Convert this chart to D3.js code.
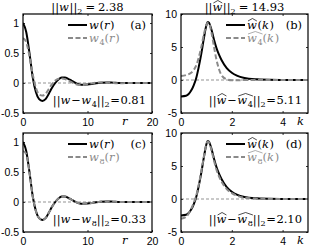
<!DOCTYPE html>
<html>
<head>
<meta charset="utf-8">
<script src="https://cdn.jsdelivr.net/npm/d3@7"></script>
<style>
  body { margin: 0; background: #fff; }
  svg { display: block; }
  .tick text { font-family: "Liberation Sans", Arial, sans-serif; font-size: 10.5px; fill: #000; }
</style>
</head>
<body>
<div id="chart"></div>
<script>
// spatial profile w(r) and its approximations
const rVals = [0, 0.5, 1, 1.5, 2, 2.5, 3, 3.5, 4, 4.5, 5, 5.5, 6, 6.5, 7, 7.5, 8, 8.5, 9, 9.5, 10, 11, 12, 13, 14, 15, 16, 18, 20];
const wR  = [1.0, 0.85, 0.5, 0.1, -0.15, -0.27, -0.3, -0.27, -0.18, -0.08, 0.0, 0.06, 0.09, 0.09, 0.07, 0.04, 0.01, -0.015, -0.03, -0.03, -0.025, -0.01, 0.005, 0.01, 0.005, 0, 0, 0, 0];
const w4R = [0.75, 0.68, 0.45, 0.15, -0.08, -0.19, -0.21, -0.18, -0.1, -0.02, 0.04, 0.07, 0.075, 0.065, 0.04, 0.015, -0.01, -0.03, -0.035, -0.03, -0.02, 0.0, 0.01, 0.01, 0.0, -0.005, 0, 0, 0];
const w8R = [0.85, 0.8, 0.5, 0.1, -0.15, -0.27, -0.3, -0.27, -0.18, -0.08, 0.0, 0.06, 0.09, 0.09, 0.07, 0.04, 0.01, -0.015, -0.028, -0.03, -0.025, -0.01, 0.005, 0.008, 0.004, 0, 0, 0, 0];

// spectrum w^(k) and its approximations
const kVals = [0, 0.2, 0.4, 0.5, 0.6, 0.7, 0.8, 0.9, 1.0, 1.05, 1.1, 1.2, 1.3, 1.4, 1.5, 1.6, 1.8, 2.0, 2.2, 2.5, 3, 3.5, 4, 4.5, 5];
const wK  = [-2.5, -2.4, -1.6, -0.8, 0.3, 2.0, 4.0, 6.3, 8.3, 8.8, 8.7, 7.6, 6.1, 4.8, 3.8, 3.0, 1.8, 1.1, 0.65, 0.3, 0.1, 0.03, 0.01, 0, 0];
const w4K = [0.6, 0.75, 1.1, 1.5, 2.2, 3.4, 5.0, 6.9, 8.3, 8.7, 8.6, 7.2, 5.0, 3.0, 1.6, 0.7, 0.1, -0.05, -0.05, 0, 0, 0, 0, 0, 0];
const w8K = [-3.0, -2.7, -1.5, -0.6, 0.5, 2.2, 4.2, 6.4, 8.3, 8.7, 8.6, 7.4, 5.8, 4.4, 3.4, 2.6, 1.5, 0.9, 0.5, 0.2, 0.05, 0, 0, 0, 0];

const rTicks = [0, 10, 20];
const kTicks = [0, 2, 4];
const rYTicks = [-0.5, 0, 0.5, 1];
const kYTicks = [-5, 0, 5, 10];

const width = 322, height = 247;
const svg = d3.select("#chart").append("svg")
  .attr("width", width)
  .attr("height", height);
svg.append("rect").attr("width", width).attr("height", height).attr("fill", "#fff");

const gray = "#8a8a8a";
const mathSize = 11.5;
const serif = "'DejaVu Serif', 'Liberation Serif', serif";

// lay out a run of math text pieces one after another
function mathText(parent, x, y, segs, anchor, color) {
  const g = parent.append("g");
  let cx = 0;
  const boxes = [];
  segs.forEach(s => {
    cx += s.pl || 0;
    const fs = s.s ? mathSize * 0.7 : mathSize;
    const t = g.append("text")
      .attr("x", cx)
      .attr("y", s.s ? 3 : 0)
      .attr("font-family", serif)
      .attr("font-size", fs)
      .attr("font-style", s.i ? "italic" : "normal")
      .attr("fill", color || "#000")
      .text(s.t);
    const w = t.node().getComputedTextLength();
    boxes.push({ x0: cx, x1: cx + w, h: s.h });
    cx += w + (s.pr || 0) + (s.i ? 0.6 : 0);
  });
  // wide hats
  const ids = [...new Set(boxes.filter(b => b.h).map(b => b.h))];
  ids.forEach(id => {
    const bs = boxes.filter(b => b.h === id);
    const x0 = d3.min(bs, b => b.x0) + 1, x1 = d3.max(bs, b => b.x1);
    g.append("path")
      .attr("d", `M${x0},-8 L${(x0 + x1) / 2},-10.5 L${x1},-8`)
      .attr("fill", "none")
      .attr("stroke", color || "#000")
      .attr("stroke-width", 0.7);
  });
  const dx = anchor === "end" ? -cx : anchor === "middle" ? -cx / 2 : 0;
  g.attr("transform", `translate(${x + dx},${y})`);
}

const panels = [
  { id: "a", x0: 23, x1: 152, y0: 14, y1: 113, xd: [0, 20], yd: [-0.5, 1.15], xs: rVals, ys: [wR, w4R], xt: rTicks, yt: rYTicks, xl: "r", n: "4", hat: false, norm: "2.38", err: "0.81", title: true },
  { id: "b", x0: 181, x1: 308, y0: 14, y1: 113, xd: [0, 5], yd: [-5, 10], xs: kVals, ys: [wK, w4K], xt: kTicks, yt: kYTicks, xl: "k", n: "4", hat: true, norm: "14.93", err: "5.11", title: true },
  { id: "c", x0: 23, x1: 152, y0: 133, y1: 232, xd: [0, 20], yd: [-0.5, 1.15], xs: rVals, ys: [wR, w8R], xt: rTicks, yt: rYTicks, xl: "r", n: "8", hat: false, err: "0.33", title: false },
  { id: "d", x0: 181, x1: 308, y0: 133, y1: 232, xd: [0, 5], yd: [-5, 10], xs: kVals, ys: [wK, w8K], xt: kTicks, yt: kYTicks, xl: "k", n: "8", hat: true, err: "2.10", title: false }
];

panels.forEach(p => {
  const x = d3.scaleLinear().domain(p.xd).range([p.x0, p.x1]);
  const y = d3.scaleLinear().domain(p.yd).range([p.y1, p.y0]);
  const g = svg.append("g");

  const clipId = "clip-" + p.id;
  svg.append("clipPath").attr("id", clipId)
    .append("rect").attr("x", p.x0).attr("y", p.y0).attr("width", p.x1 - p.x0).attr("height", p.y1 - p.y0);

  // axes (ticks pointing inward)
  const xa = g.append("g").attr("transform", `translate(0,${p.y1})`)
    .call(d3.axisBottom(x).tickValues(p.xt).tickSize(-2).tickPadding(5.5).tickFormat(d3.format("")));
  const xt = g.append("g").attr("transform", `translate(0,${p.y0})`)
    .call(d3.axisTop(x).tickValues(p.xt).tickSize(-2).tickFormat(""));
  const ya = g.append("g").attr("transform", `translate(${p.x0},0)`)
    .call(d3.axisLeft(y).tickValues(p.yt).tickSize(-2).tickPadding(4).tickFormat(d => String(d)));
  const yr = g.append("g").attr("transform", `translate(${p.x1},0)`)
    .call(d3.axisRight(y).tickValues(p.yt).tickSize(-2).tickFormat(""));
  [xa, xt, ya, yr].forEach(a => {
    a.select(".domain").remove();
    a.selectAll("line").attr("stroke", "#000").attr("stroke-width", 0.8);
  });

  // zero line
  g.append("line")
    .attr("x1", p.x0).attr("x2", p.x1)
    .attr("y1", y(0)).attr("y2", y(0))
    .attr("stroke", "#666").attr("stroke-width", 0.7)
    .attr("stroke-dasharray", "3,2");

  const line = d3.line()
    .x((d, i) => x(p.xs[i]))
    .y(d => y(d))
    .curve(d3.curveMonotoneX);

  const plot = g.append("g").attr("clip-path", `url(#${clipId})`);
  plot.append("path").attr("d", line(p.ys[0]))
    .attr("fill", "none").attr("stroke", "#000").attr("stroke-width", 2);
  plot.append("path").attr("d", line(p.ys[1]))
    .attr("fill", "none").attr("stroke", gray).attr("stroke-width", 2)
    .attr("stroke-dasharray", "5,2.5");

  // box
  g.append("rect")
    .attr("x", p.x0).attr("y", p.y0)
    .attr("width", p.x1 - p.x0).attr("height", p.y1 - p.y0)
    .attr("fill", "none").attr("stroke", "#000").attr("stroke-width", 1.2);

  // x label
  mathText(g, p.id === "a" || p.id === "c" ? 122 : 297, p.y1 + 11.5, [{ t: p.xl, i: 1 }], "start");

  // legend
  const lx0 = p.x0 + 45, lx1 = lx0 + 19;
  const ly = p.y0 + 11;
  g.append("line").attr("x1", lx0).attr("x2", lx1).attr("y1", ly).attr("y2", ly)
    .attr("stroke", "#000").attr("stroke-width", 2);
  g.append("line").attr("x1", lx0).attr("x2", lx1).attr("y1", ly + 13).attr("y2", ly + 13)
    .attr("stroke", gray).attr("stroke-width", 2).attr("stroke-dasharray", "5,2.5");
  const v = p.xl;
  const h1 = p.hat ? 1 : 0;
  mathText(g, lx1 + 2, ly + 4, [{ t: "w", i: 1, h: h1 }, { t: "(" }, { t: v, i: 1 }, { t: ")" }], "start");
  mathText(g, lx1 + 2, ly + 17, [{ t: "w", i: 1, h: h1 }, { t: p.n, s: 1, h: h1 }, { t: "(" }, { t: v, i: 1 }, { t: ")" }], "start", gray);

  // panel letter
  mathText(g, p.x1 - 6, ly + 4, [{ t: "(" + p.id + ")" }], "end");

  // error norm
  mathText(g, p.x1 - 6, p.y1 - 9, [
    { t: "||" }, { t: "w", i: 1, h: h1 }, { t: "\u2212", pl: 0.3, pr: 0.3 },
    { t: "w", i: 1, h: p.hat ? 2 : 0 }, { t: p.n, s: 1, h: p.hat ? 2 : 0 },
    { t: "||" }, { t: "2", s: 1 }, { t: "=", pl: 0.5, pr: 0.5 }, { t: p.err }
  ], "end");

  // title
  if (p.title) {
    mathText(svg, (p.x0 + p.x1) / 2, p.y0 - 3, [
      { t: "||" }, { t: "w", i: 1, h: h1 }, { t: "||" }, { t: "2", s: 1 },
      { t: "=", pl: 3, pr: 3 }, { t: p.norm }
    ], "middle");
  }
});
</script>
</body>
</html>
